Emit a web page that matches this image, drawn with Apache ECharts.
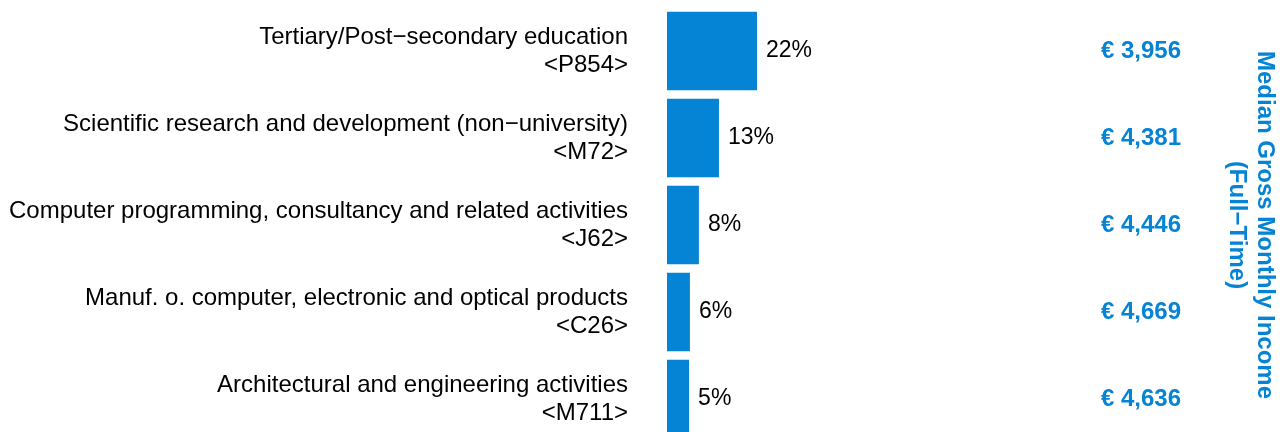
<!DOCTYPE html>
<html>
<head>
<meta charset="utf-8">
<script src="https://cdn.jsdelivr.net/npm/echarts@6/dist/echarts.min.js"></script>
<style>
html,body{margin:0;padding:0;background:#fff;overflow:hidden;height:432px;}
#chart{width:1284px;height:444px;}
</style>
</head>
<body>
<div id="chart"></div>
<script>
var categories = [
  "Tertiary/Post\u2212secondary education\n<P854>",
  "Scientific research and development (non\u2212university)\n<M72>",
  "Computer programming, consultancy and related activities\n<J62>",
  "Manuf. o. computer, electronic and optical products\n<C26>",
  "Architectural and engineering activities\n<M711>"
];
var shares = [22.0, 12.7, 7.8, 5.6, 5.4];
var incomes = [3956, 4381, 4446, 4669, 4636];
var titleLines = ["Median Gross Monthly Income", "(Full\u2212Time)"];

var BLUE = '#0583d4';
var FONT = '"Liberation Sans", Arial, sans-serif';

function fmtEuro(v){ return '\u20ac ' + v.toLocaleString('en-US'); }

var chart = echarts.init(document.getElementById('chart'));
chart.setOption({
  animation: false,
  backgroundColor: '#fff',
  grid: { left: 667, top: 7.5, height: 435, width: 409, containLabel: false },
  xAxis: { type: 'value', min: 0, max: 100, show: false },
  yAxis: [
    {
      type: 'category', inverse: true, data: categories,
      axisLine: { show: false }, axisTick: { show: false },
      axisLabel: { margin: 39, fontSize: 24, lineHeight: 28, padding: [5, 0, 0, 0], color: '#000', fontFamily: FONT }
    },
    {
      type: 'category', inverse: true, position: 'right',
      data: incomes.map(fmtEuro),
      axisLine: { show: false }, axisTick: { show: false },
      axisLabel: { margin: 105, align: 'right', fontSize: 24, fontWeight: 'bold', color: BLUE, fontFamily: FONT }
    }
  ],
  series: [{
    type: 'bar', data: shares, barWidth: '90%',
    itemStyle: { color: BLUE },
    label: {
      show: true, position: 'right', distance: 9, fontSize: 23, padding: [3, 0, 0, 0], color: '#000', fontFamily: FONT,
      formatter: function(p){ return Math.round(p.value) + '%'; }
    }
  }],
  graphic: [{
    type: 'text', x: 1251, y: 225, rotation: -Math.PI/2,
    style: {
      text: titleLines.join('\n'), fill: BLUE, fontSize: 24, fontWeight: 'bold', fontFamily: FONT,
      lineHeight: 28, align: 'center', verticalAlign: 'middle'
    }
  }]
});
</script>
</body>
</html>
